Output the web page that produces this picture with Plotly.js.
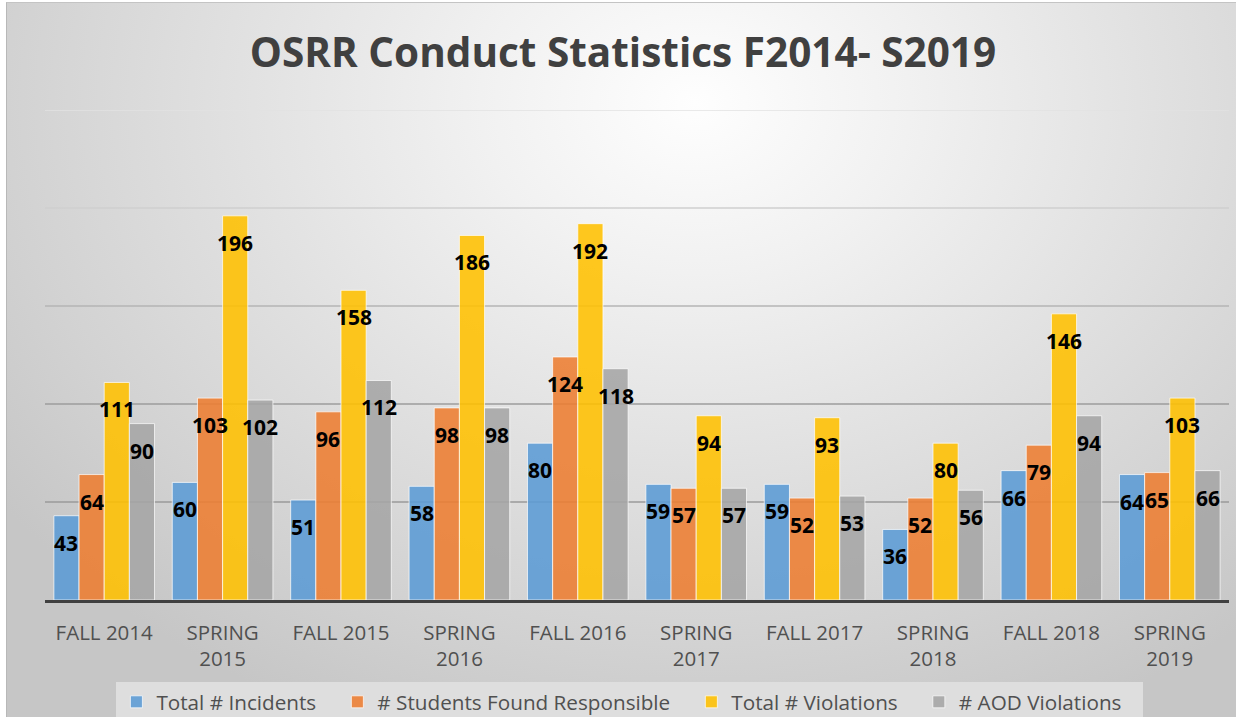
<!DOCTYPE html>
<html>
<head>
<meta charset="utf-8">
<script src="https://cdn.plot.ly/plotly-3.0.1.min.js"></script>
<style>
  html, body { margin:0; padding:0; background:#ffffff; }
  #wrap { position:relative; width:1236px; height:717px; overflow:hidden; }
  #bg { position:absolute; left:6px; top:2px; right:0; bottom:0;
        border-left:1px solid #b8b8b8; border-top:1px solid #c4c4c4;
        background: radial-gradient(ellipse 70% 95% at 56% 14%, #fefefe 0%, #f1f1f1 25%, #e0e0e0 55%, #d2d2d2 80%, #c6c6c6 100%); }
  #chart { position:absolute; left:0; top:0; width:1236px; height:717px; }
</style>
</head>
<body>
<div id="wrap"><div id="bg"></div><div id="chart"></div></div>
<script>
const categories = ["FALL 2014","SPRING<br>2015","FALL 2015","SPRING<br>2016","FALL 2016","SPRING<br>2017","FALL 2017","SPRING<br>2018","FALL 2018","SPRING<br>2019"];
const seriesNames = ["Total # Incidents","# Students Found Responsible","Total # Violations","# AOD Violations"];
const totalIncidents    = [43, 60, 51, 58, 80, 59, 59, 36, 66, 64];
const studentsResponsible = [64, 103, 96, 98, 124, 57, 52, 52, 79, 65];
const totalViolations   = [111, 196, 158, 186, 192, 94, 93, 80, 146, 103];
const aodViolations     = [90, 102, 112, 98, 118, 57, 53, 56, 94, 66];
const gridValues = [50, 100, 150, 200, 250];

const seriesValues = [totalIncidents, studentsResponsible, totalViolations, aodViolations];
const colors = ["rgba(91,155,213,0.88)","rgba(237,125,49,0.88)","rgba(255,192,0,0.88)","rgba(165,165,165,0.88)"];
const gridColors = ["#9a9a9a","#9c9c9c","#b4b4b4","#cfcfcf","#e2e2e2"];
const bargap = 0.15;
const nS = seriesValues.length;
const legendPad = "\u00a0\u00a0\u00a0";

const traces = seriesValues.map((vals, j) => ({
  type: "bar",
  name: seriesNames[j] + legendPad,
  x: categories,
  y: vals,
  marker: { color: colors[j], line: { color: "rgba(255,255,255,0.7)", width: 1 } },
  hoverinfo: "skip"
}));

const annotations = [];
seriesValues.forEach((vals, j) => {
  vals.forEach((v, i) => {
    annotations.push({
      xref: "x", yref: "y",
      x: i + (j - (nS - 1) / 2) * (1 - bargap) / nS,
      y: v,
      text: "<b>" + v + "</b>",
      showarrow: false,
      yanchor: "middle",
      yshift: -27,
      font: { family: "Open Sans", size: 21, color: "#000000" }
    });
  });
});

const shapes = gridValues.map((g, k) => ({
  type: "line", xref: "paper", yref: "y", x0: 0, x1: 1, y0: g, y1: g,
  line: { color: gridColors[k], width: 1.5 }, layer: "below"
}));

const layout = {
  width: 1236, height: 717,
  paper_bgcolor: "rgba(0,0,0,0)",
  plot_bgcolor: "rgba(0,0,0,0)",
  margin: { l: 45, r: 7, t: 110, b: 117 },
  title: { text: "<b>OSRR Conduct Statistics F2014- S2019</b>", x: 0.504, xanchor: "center", y: 0.927, yanchor: "middle",
           font: { family: "Open Sans", size: 40.5, color: "#404040" } },
  barmode: "group",
  bargap: bargap,
  bargroupgap: 0,
  xaxis: {
    type: "category",
    showline: true, linecolor: "#404040", linewidth: 3,
    showgrid: false, ticks: "",
    tickfont: { family: "Open Sans", size: 20.5, color: "#505050" },
    ticklabelstandoff: 12
  },
  yaxis: {
    range: [0, 250], showgrid: false, zeroline: false, showticklabels: false, showline: false
  },
  showlegend: true,
  legend: {
    orientation: "h", xref: "paper", x: 0.494, xanchor: "center",
    yref: "container", y: 0.049, yanchor: "top",
    bgcolor: "#dedede",
    font: { family: "Open Sans", size: 20.7, color: "#505050" },
    itemclick: false
  },
  shapes: shapes,
  annotations: annotations
};

Plotly.newPlot("chart", traces, layout, { displayModeBar: false, staticPlot: true });
</script>
</body>
</html>
